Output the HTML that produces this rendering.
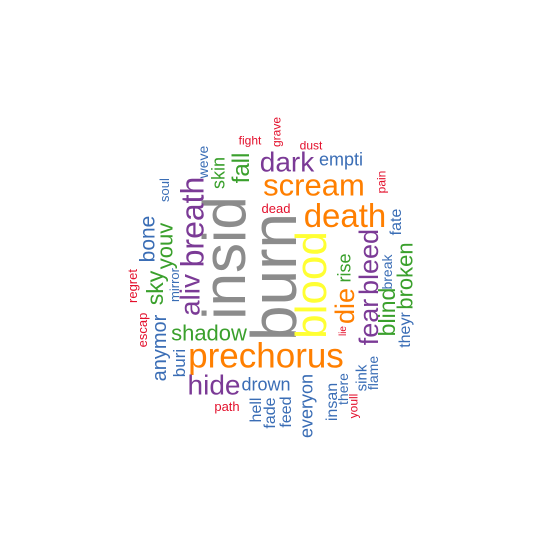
<!DOCTYPE html>
<html><head><meta charset="utf-8"><style>
html,body{margin:0;padding:0;background:#fff;width:548px;height:555px;overflow:hidden}
svg text{font-family:"Liberation Sans",Arial,sans-serif}
</style></head><body>
<svg id="cloud" width="548" height="555" viewBox="0 0 548 555" xmlns="http://www.w3.org/2000/svg"></svg>
<script>
const words=["burn","insid","blood","prechorus","scream","death","dark","empti","dust","pain","dead","fate","rise","die","bleed","fear","blind","break","broken","theyr","lie","sink","flame","there","youll","insan","everyon","feed","fade","hell","drown","path","hide","buri","anymor","escap","regret","shadow","sky","mirror","aliv","breath","youv","bone","soul","weve","skin","fall","fight","grave"];
const sizes=[64,60,44,35,31,33,28,18,12,12,13,16,18,27,27,27,23,14,22,16,10,15,14,14,12,16,18,16,16,16,18,13,28,17,20,13,13,22,23,13,28,32,22,21,13,14,18,24,12,12];
const xs=[277,227,313,266,314,345,287,341,311,382,276,396,345,346,370,370,388,388,406,405,343,362,374,344,354,332,307,286,270,256,266,227,214,180,160,143,133,209,156,175,191,194,166,148,165,204,219,242,250,277];
const ys=[277,258,285,357,186,217,163,160,146,182,209,222,268,306,262,322,312,272,276,330,331,378,373,389,406,402,406,412,413,410,385,407,386,363,348,330,286,334,288,285,295,222,246,239,190,162,173,168,141,132];
const vert=[1,1,1,0,0,0,0,0,0,1,0,1,1,1,1,1,1,1,1,1,1,1,1,1,1,1,1,1,1,1,0,0,0,1,1,1,1,0,1,1,1,1,1,1,1,1,1,1,0,1];
const colorIdx=[0,0,1,2,2,2,3,5,6,6,6,5,4,2,3,3,4,5,4,5,6,5,5,5,6,5,5,5,5,5,5,6,3,5,5,6,6,4,4,5,3,3,4,5,5,5,4,4,6,6];
const palette=["#8c8c8c","#ffff33","#ff7f00","#7b3a96","#3aa02c","#3a6db5","#e3102c"];
const svg=document.getElementById('cloud');
for(let i=0;i<words.length;i++){
  const t=document.createElementNS('http://www.w3.org/2000/svg','text');
  
  
  t.setAttribute('text-anchor','middle');
  t.setAttribute('dy','0.3em');
  t.setAttribute('x',xs[i]);t.setAttribute('y',ys[i]);
  t.setAttribute('font-size',sizes[i]);
  t.setAttribute('fill',palette[colorIdx[i]]);
  if(vert[i])t.setAttribute('transform','rotate(-90 '+xs[i]+' '+ys[i]+')');
  t.textContent=words[i];
  svg.appendChild(t);
}
</script>
</body></html>
